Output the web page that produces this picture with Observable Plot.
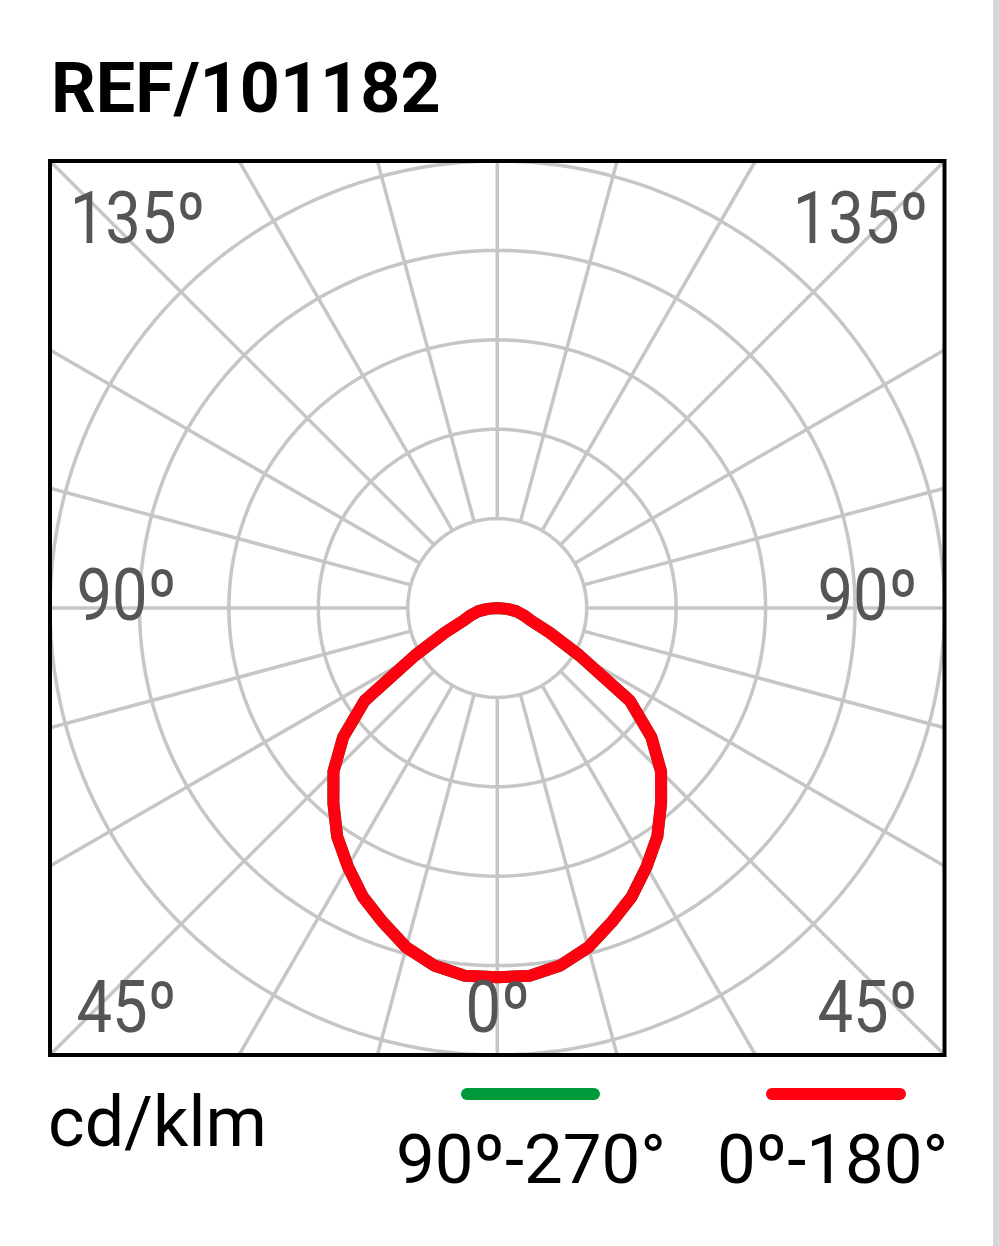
<!DOCTYPE html>
<html>
<head>
<meta charset="utf-8">
<script src="https://cdn.jsdelivr.net/npm/d3@7"></script>
<script src="https://cdn.jsdelivr.net/npm/@observablehq/plot@0.6"></script>
<style>
  html, body { margin: 0; padding: 0; background: #fff; }
  body { width: 1000px; height: 1246px; position: relative; overflow: hidden; font-family: Roboto, "Noto Sans", sans-serif; }
  .abs { position: absolute; white-space: nowrap; line-height: 1; }
  #chart { position: absolute; left: 0; top: 150px; }
  .swatch { position: absolute; height: 12px; border-radius: 6px; }
  #strip { position: absolute; left: 993px; top: 0; width: 7px; height: 1246px; background: #d9d6d6; }
</style>
</head>
<body>
<div class="abs" id="title" style="left:51px; top:53px; font-size:70px; font-weight:700; color:#000;"></div>
<div id="chart"></div>
<div class="abs" id="unit" style="left:48px; top:1087px; font-size:70px; color:#000;"></div>
<div class="swatch" id="sw0" style="left:461px; top:1088px; width:139px;"></div>
<div class="swatch" id="sw1" style="left:766px; top:1088px; width:140px;"></div>
<div class="abs" id="lab0" style="left:396px; top:1125px; font-size:69px; color:#000;"></div>
<div class="abs" id="lab1" style="left:717px; top:1125px; font-size:69px; color:#000;"></div>
<div id="strip"></div>
<script>
// ---- data ----
const title = "REF/101182";
const unitLabel = "cd/klm";
const seriesNames = ["90º-270°", "0º-180°"];
const seriesColors = ["#00993a", "#ff0010"];
// gamma angles (degrees from nadir) and intensities (cd/klm), symmetric planes
const gamma = [0, 5, 10, 15, 20, 25, 30, 35, 40, 45, 50, 55, 60, 65, 70, 75, 80, 85, 90];
const c0_180 = [413, 413, 406, 393, 374, 356, 334, 312, 285, 259, 225, 181, 106, 64, 39, 30, 22, 11, 0];
const c90_270 = [413, 413, 406, 393, 374, 356, 334, 312, 285, 259, 225, 181, 106, 64, 39, 30, 22, 11, 0];
const ringValues = [100, 200, 300, 400, 500];
const spokeAngles = d3.range(0, 360, 15);
const angleLabels = ["135º", "135º", "90º", "90º", "45º", "45º", "0º"];

document.getElementById("title").textContent = title;
document.getElementById("unit").textContent = unitLabel;
document.getElementById("lab0").textContent = seriesNames[0];
document.getElementById("lab1").textContent = seriesNames[1];
document.getElementById("sw0").style.background = seriesColors[0];
document.getElementById("sw1").style.background = seriesColors[1];

const rad = d => d * Math.PI / 180;

// polar curve -> cartesian (0° down, both half planes)
function curvePoints(values, series) {
  const right = gamma.map((g, i) => ({x: values[i] * Math.sin(rad(g)), y: -values[i] * Math.cos(rad(g)), series}));
  const left = gamma.slice().reverse().map((g, j) => {
    const i = gamma.length - 1 - j;
    return {x: -values[i] * Math.sin(rad(g)), y: -values[i] * Math.cos(rad(g)), series};
  });
  return right.concat(left);
}

const rings = ringValues.flatMap(r => d3.range(0, 361, 2).map(a => ({ring: r, x: r * Math.sin(rad(a)), y: r * Math.cos(rad(a))})));
const rmax = ringValues[ringValues.length - 1];
const spokes = spokeAngles.map(a => {
  const s = Math.sin(rad(a)), c = Math.cos(rad(a));
  const rEnd = rmax / Math.max(Math.abs(s), Math.abs(c));
  return {x1: ringValues[0] * s, y1: ringValues[0] * c, x2: rEnd * s, y2: rEnd * c};
});

const labelFont = {fontSize: 72, fill: "#555555", fontFamily: "Roboto", textAnchor: "middle", lineAnchor: "middle", className: "anglabel"};

const plot = Plot.plot({
  width: 1000,
  height: 915,
  marginLeft: 49.5,
  marginRight: 56,
  marginTop: 10.5,
  marginBottom: 10.5,
  x: {domain: [-rmax, rmax], axis: null},
  y: {domain: [-rmax, rmax], axis: null},
  style: {background: "transparent", fontFamily: "Roboto"},
  marks: [
    Plot.line(rings, {x: "x", y: "y", z: "ring", stroke: "#c6c6c6", strokeWidth: 3.5}),
    Plot.link(spokes, {x1: "x1", y1: "y1", x2: "x2", y2: "y2", stroke: "#c6c6c6", strokeWidth: 3.5}),
    Plot.line(curvePoints(c90_270, seriesNames[0]), {x: "x", y: "y", stroke: seriesColors[0], strokeWidth: 12, strokeLinejoin: "round"}),
    Plot.line(curvePoints(c0_180, seriesNames[1]), {x: "x", y: "y", stroke: seriesColors[1], strokeWidth: 12, strokeLinejoin: "round"}),
    Plot.frame({stroke: "#000", strokeWidth: 4}),
    Plot.text([angleLabels[0]], {...labelFont, frameAnchor: "top-left", dx: 87.5, dy: 59}),
    Plot.text([angleLabels[1]], {...labelFont, frameAnchor: "top-right", dx: -84, dy: 59}),
    Plot.text([angleLabels[2]], {...labelFont, frameAnchor: "left", dx: 76.5, dy: -11.5}),
    Plot.text([angleLabels[3]], {...labelFont, frameAnchor: "right", dx: -77, dy: -11.5}),
    Plot.text([angleLabels[4]], {...labelFont, frameAnchor: "bottom-left", dx: 76.5, dy: -46.5}),
    Plot.text([angleLabels[5]], {...labelFont, frameAnchor: "bottom-right", dx: -77, dy: -46.5}),
    Plot.text([angleLabels[6]], {...labelFont, frameAnchor: "bottom", dx: 0.5, dy: -46.5})
  ]
});
document.getElementById("chart").appendChild(plot);
// condense the angle labels horizontally to match the narrow lettering
plot.querySelectorAll(".anglabel text").forEach(t => {
  const w = t.getComputedTextLength();
  t.setAttribute("textLength", (w * 0.88).toFixed(1));
  t.setAttribute("lengthAdjust", "spacingAndGlyphs");
});
</script>
</body>
</html>
